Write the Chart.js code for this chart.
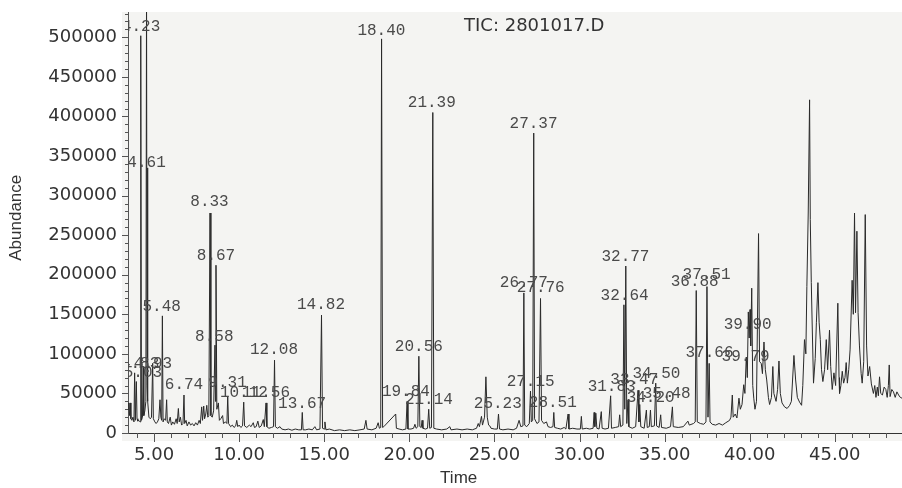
<!DOCTYPE html>
<html>
<head>
<meta charset="utf-8">
<script src="https://cdn.jsdelivr.net/npm/chart.js@4"></script>
<style>
  html, body { margin: 0; padding: 0; background: #fff; }
</style>
</head>
<body>
<canvas id="chart" width="902" height="488"></canvas>
<script>
// TIC trace as [time (min), abundance]
var earlyTrace = [
  [3.47,30000],[3.52,38000],[3.56,22000],[3.6,38000],[3.64,18000],[3.7,16000],[3.76,20000],[3.82,14000],
  [3.86,76000],[3.9,16000],[3.96,65000],[4.0,18000],[4.05,15000],[4.1,16000],[4.18,14000],[4.22,502000],
  [4.26,16000],[4.32,20000],[4.36,84000],[4.4,22000],[4.46,28000],[4.52,40000],[4.56,560000],[4.59,60000],
  [4.61,335000],[4.64,40000],[4.7,20000],[4.78,18000],[4.85,20000],[4.92,88000],[4.96,18000],[5.05,14000],
  [5.12,12000],[5.2,14000],[5.28,18000],[5.35,42000],[5.4,20000],[5.45,16000],[5.49,148000],[5.53,14000],
  [5.6,18000],[5.68,16000],[5.74,42000],[5.78,14000],[5.85,12000],[5.95,20000],[6.02,10000],[6.1,14000],
  [6.2,11000],[6.3,18000],[6.36,12000],[6.43,31000],[6.48,14000],[6.55,20000],[6.62,10000],[6.7,12000],
  [6.76,48000],[6.8,12000],[6.88,16000],[6.95,9000],[7.05,14000],[7.15,10000],[7.25,12000],[7.35,9000],
  [7.45,13000],[7.55,10000],[7.65,16000],[7.72,12000],[7.8,33000],[7.85,16000],[7.92,34000],[7.97,18000],
  [8.04,24000],[8.1,35000],[8.16,20000],[8.22,22000],[8.29,278000],[8.34,22000],[8.42,20000],[8.5,28000],
  [8.58,111000],[8.61,40000],[8.64,212000],[8.69,30000],[8.78,38000],[8.84,16000],[8.92,18000],[9.03,22000],
  [9.08,12000],[9.2,14000],[9.28,12000],[9.33,46000],[9.38,12000],[9.5,8000],[9.6,10000],[9.7,7000],
  [9.8,9000],[9.86,16000],[9.92,8000],[10.0,10000],[10.1,7000],[10.2,9000],[10.27,39000],[10.32,9000],
  [10.45,7000],[10.6,10000],[10.7,8000],[10.83,13000],[10.9,7000],[11.0,8000],[11.1,15000],[11.18,7000],
  [11.3,9000],[11.42,17000],[11.48,8000],[11.58,38000],[11.63,8000],[11.75,6000],[11.9,7000],[12.02,8000],
  [12.08,92000],[12.13,8000],[12.25,6000],[12.4,8000],[12.5,5000],[12.7,4000],[12.9,5000],[13.1,3500],
  [13.3,5000],[13.5,4000],[13.66,4000],[13.71,26000],[13.76,4000],[13.9,4000],[14.1,5000],[14.3,4000],
  [14.45,8000],[14.55,4000],[14.75,5000],[14.84,149000],[14.9,6000],[15.0,5000],[15.04,14000],[15.1,4000]
];
var midTrace = [
  [15.3,5000],[15.6,3000],[15.9,4000],[16.2,3000],[16.5,4000],[16.8,3000],[17.1,4000],[17.35,5000],
  [17.45,16000],[17.52,5000],[17.8,4000],[18.05,6000],[18.17,13000],[18.24,6000],[18.32,7000],[18.37,498000],
  [18.43,7000],[18.5,8000],[19.2,24000],[19.24,6000],[19.4,5000],[19.6,4000],[19.8,5000],[19.87,40000],
  [19.92,5000],[20.1,5000],[20.25,6000],[20.33,11000],[20.4,6000],[20.5,8000],[20.56,97000],[20.62,8000],
  [20.7,7000],[20.75,16000],[20.8,6000],[20.95,5000],[21.07,6000],[21.14,30000],[21.2,6000],[21.3,7000],
  [21.38,405000],[21.44,6000],[21.6,5000],[21.9,4000],[22.2,5000],[22.38,8000],[22.45,4000],[22.8,5000],
  [23.1,4000],[23.4,5000],[23.7,4000],[23.95,6000],[24.05,12000],[24.12,8000],[24.24,21000],[24.3,10000],
  [24.42,20000],[24.5,71000],[24.58,20000],[24.66,10000],[24.73,9000],[24.8,6000],[25.0,5000],[25.17,5000],
  [25.24,24000],[25.3,5000],[25.5,4000],[25.8,5000],[26.1,4000],[26.3,6000],[26.45,16000],[26.55,8000],
  [26.68,9000],[26.73,177000],[26.78,10000],[26.9,8000],[27.05,12000],[27.12,53000],[27.17,14000],[27.25,16000],
  [27.31,379000],[27.36,18000],[27.5,12000],[27.62,14000],[27.71,170000],[27.77,16000],[27.9,12000],[28.06,14000]
];
var lateTrace = [
  [28.15,8000],[28.3,7000],[28.44,8000],[28.49,26000],[28.54,7000],[28.7,6000],[28.9,5000],[29.1,7000],
  [29.2,5000],[29.33,24000],[29.38,5000],[29.6,6000],[29.85,5000],[30.05,5000],[30.11,21000],[30.16,5000],
  [30.4,6000],[30.6,5000],[30.8,6000],[30.86,26000],[30.9,8000],[30.96,25000],[31.02,6000],[31.15,5000],
  [31.28,27000],[31.33,6000],[31.5,5000],[31.7,6000],[31.83,47000],[31.88,6000],[32.1,7000],[32.3,8000],
  [32.36,23000],[32.42,8000],[32.55,10000],[32.61,162000],[32.66,30000],[32.72,211000],[32.78,12000],[32.85,42000],
  [32.9,8000],[33.1,6000],[33.3,8000],[33.44,54000],[33.49,14000],[33.54,36000],[33.6,8000],[33.8,6000],
  [33.93,29000],[33.98,7000],[34.1,8000],[34.17,29000],[34.22,8000],[34.4,9000],[34.48,63000],[34.53,9000],
  [34.68,7000],[34.77,23000],[34.82,7000],[35.1,6000],[35.35,8000],[35.46,33000],[35.51,8000],[35.8,7000],
  [36.1,8000],[36.37,15000],[36.45,10000],[36.7,12000],[36.8,14000],[36.86,180000],[36.92,14000],[37.1,12000],
  [37.3,11000],[37.43,14000],[37.49,185000],[37.55,20000],[37.62,88000],[37.67,14000],[37.8,11000],[38.0,10000],
  [38.2,12000],[38.4,10000],[38.6,13000],[38.82,16000]
];
var tailTrace = [
  [38.9,20000],[38.98,48000],[39.03,20000],[39.15,24000],[39.25,19000],[39.37,44000],[39.45,30000],[39.55,36000],
  [39.65,61000],[39.72,50000],[39.8,96000],[39.86,70000],[39.92,153000],[39.97,120000],[40.02,156000],[40.06,110000],
  [40.12,183000],[40.18,60000],[40.24,44000],[40.31,30000],[40.4,40000],[40.52,252000],[40.58,90000],[40.68,88000],
  [40.75,75000],[40.84,115000],[40.92,80000],[41.0,67000],[41.1,45000],[41.17,36000],[41.28,45000],[41.36,84000],
  [41.42,50000],[41.55,40000],[41.64,55000],[41.72,91000],[41.8,50000],[41.9,38000],[42.05,33000],[42.2,31000],
  [42.35,35000],[42.45,40000],[42.6,98000],[42.7,67000],[42.8,45000],[42.93,39000],[43.05,35000],[43.12,60000],
  [43.22,118000],[43.3,100000],[43.36,185000],[43.44,278000],[43.52,421000],[43.56,270000],[43.62,190000],[43.67,139000],
  [43.75,63000],[43.85,94000],[43.92,140000],[44.01,190000],[44.08,140000],[44.15,118000],[44.22,80000],[44.3,65000],
  [44.4,80000],[44.5,118000],[44.58,80000],[44.69,130000],[44.76,84000],[44.85,55000],[44.95,76000],[45.05,60000],
  [45.18,164000],[45.25,70000],[45.28,50000],[45.36,60000],[45.44,78000],[45.52,63000],[45.6,70000],[45.67,89000],
  [45.74,63000],[45.82,80000],[45.9,105000],[46.02,193000],[46.09,150000],[46.16,278000],[46.22,152000],[46.3,255000],
  [46.37,152000],[46.45,110000],[46.55,75000],[46.61,63000],[46.7,90000],[46.79,276000],[46.87,110000],[46.95,72000],
  [47.05,84000],[47.15,62000],[47.27,50000],[47.35,60000],[47.42,45000],[47.5,58000],[47.56,47000],[47.63,71000],
  [47.7,50000],[47.8,48000],[47.9,58000],[48.0,55000],[48.08,45000],[48.15,60000],[48.2,86000],[48.25,46000],
  [48.35,55000],[48.45,52000],[48.55,45000],[48.65,52000],[48.75,48000],[48.85,45000],[48.95,44000]
];

// labelled axis ticks
var timeTicks = [5, 10, 15, 20, 25, 30, 35, 40, 45];
var abundanceTicks = [0, 50000, 100000, 150000, 200000, 250000, 300000, 350000, 400000, 450000, 500000];

// peak annotations: text, centre time, abundance at text middle
var labelText  = ["4.23","4.61","4.83","4.93","5.03","5.48","6.74","8.33","8.67","8.58","9.31","10.12","11.56",
                  "12.08","13.67","14.82","18.40","19.84","20.56","21.14","21.39","25.23","26.77","27.15","27.37",
                  "27.76","28.51","31.83","33.47","34.50","34.20","35.48","32.77","32.64","36.88","37.51","37.66",
                  "39.90","39.79"];
var labelTime  = [4.24,4.56,4.18,4.94,4.35,5.45,6.76,8.26,8.64,8.54,9.32,10.28,11.58,
                  12.05,13.7,14.81,18.36,19.8,20.56,21.15,21.32,25.2,26.73,27.13,27.3,
                  27.72,28.43,31.89,33.22,34.52,34.18,35.12,32.7,32.65,36.77,37.47,37.64,
                  39.88,39.76];
var labelLevel = [513000,341000,88000,88000,76000,160000,61000,292000,224000,122000,64000,50500,50500,
                  105000,37500,162000,508000,52000,109000,42000,417000,37000,190000,65000,391000,
                  183000,38000,59000,67000,75000,44000,50000,223000,174000,191000,200000,101000,
                  137000,96000];

var yMax = 532000;
var points = [].concat(earlyTrace, midTrace, lateTrace, tailTrace).map(function (p) {
  return { x: p[0], y: p[1] };
});

var decor = {
  id: 'decor',
  beforeDraw: function (chart) {
    var ctx = chart.ctx, a = chart.chartArea;
    ctx.save();
    ctx.fillStyle = '#f4f4f2';
    ctx.fillRect(a.left - 6, a.top, a.right - a.left + 6, a.bottom - a.top + 8);
    ctx.restore();
  },
  afterDraw: function (chart) {
    var ctx = chart.ctx, a = chart.chartArea, xs = chart.scales.x, ys = chart.scales.y;
    ctx.save();
    // tick marks: minor every minute / 10000, longer on the labelled ones
    ctx.strokeStyle = '#555';
    ctx.lineWidth = 1;
    ctx.beginPath();
    for (var t = Math.ceil(xs.min); t <= xs.max; t++) {
      var px = Math.round(xs.getPixelForValue(t)) + 0.5;
      ctx.moveTo(px, a.bottom);
      ctx.lineTo(px, a.bottom + (t % 5 === 0 ? 9 : 5));
    }
    for (var v = 0; v <= ys.max; v += 10000) {
      var py = Math.round(ys.getPixelForValue(v)) + 0.5;
      ctx.moveTo(a.left, py);
      ctx.lineTo(a.left - (v % 50000 === 0 ? 6 : 3), py);
    }
    ctx.stroke();

    // axis titles
    ctx.fillStyle = '#333';
    ctx.font = '17px "Liberation Sans", Arial, sans-serif';
    ctx.textAlign = 'center';
    ctx.textBaseline = 'middle';
    ctx.fillText('Time', xs.getPixelForValue(22.9), 478);
    ctx.save();
    ctx.translate(16, ys.getPixelForValue(272000));
    ctx.rotate(-Math.PI / 2);
    ctx.fillText('Abundance', 0, 0);
    ctx.restore();

    // file title
    ctx.font = '18px "DejaVu Sans", sans-serif';
    ctx.fillText('TIC: 2801017.D', xs.getPixelForValue(27.34), ys.getPixelForValue(514000));

    // peak labels, clipped to the plot
    ctx.beginPath();
    ctx.rect(a.left, a.top, a.right - a.left, a.bottom - a.top);
    ctx.clip();
    ctx.font = '16px "Liberation Mono", "DejaVu Sans Mono", monospace';
    ctx.fillStyle = '#4a4a4a';
    for (var i = 0; i < labelText.length; i++) {
      ctx.fillText(labelText[i], xs.getPixelForValue(labelTime[i]), ys.getPixelForValue(labelLevel[i]));
    }
    ctx.restore();
  }
};

new Chart(document.getElementById('chart'), {
  type: 'line',
  data: {
    datasets: [{
      data: points,
      borderColor: '#2a2a2a',
      borderWidth: 1,
      pointRadius: 0,
      tension: 0,
      fill: false
    }]
  },
  options: {
    responsive: false,
    animation: false,
    parsing: false,
    layout: { padding: { top: 12, right: 0, bottom: 0, left: 0 } },
    plugins: { legend: { display: false }, tooltip: { enabled: false }, title: { display: false } },
    scales: {
      x: {
        type: 'linear',
        min: 3.47,
        max: 48.95,
        grid: { display: false, drawTicks: false },
        border: { display: true, color: '#333', width: 1 },
        afterBuildTicks: function (scale) {
          scale.ticks = timeTicks.map(function (v) { return { value: v }; });
        },
        ticks: {
          autoSkip: false,
          maxRotation: 0,
          padding: 12,
          color: '#333',
          font: { family: '"DejaVu Sans", sans-serif', size: 18 },
          callback: function (val) { return Number(val).toFixed(2); }
        },
        afterFit: function (scale) {
          scale.height = 55;
          scale.paddingLeft = 0;
          scale.paddingRight = 0;
        }
      },
      y: {
        min: 0,
        max: yMax,
        grid: { display: false, drawTicks: false },
        border: { display: true, color: '#555', width: 1 },
        afterBuildTicks: function (scale) {
          scale.ticks = abundanceTicks.map(function (v) { return { value: v }; });
        },
        ticks: {
          autoSkip: false,
          padding: 11,
          color: '#333',
          font: { family: '"DejaVu Sans", sans-serif', size: 18 },
          callback: function (val) { return String(val); }
        },
        afterFit: function (scale) {
          scale.width = 128;
          scale.paddingTop = 0;
          scale.paddingBottom = 0;
        }
      }
    }
  },
  plugins: [decor]
});
</script>
</body>
</html>
